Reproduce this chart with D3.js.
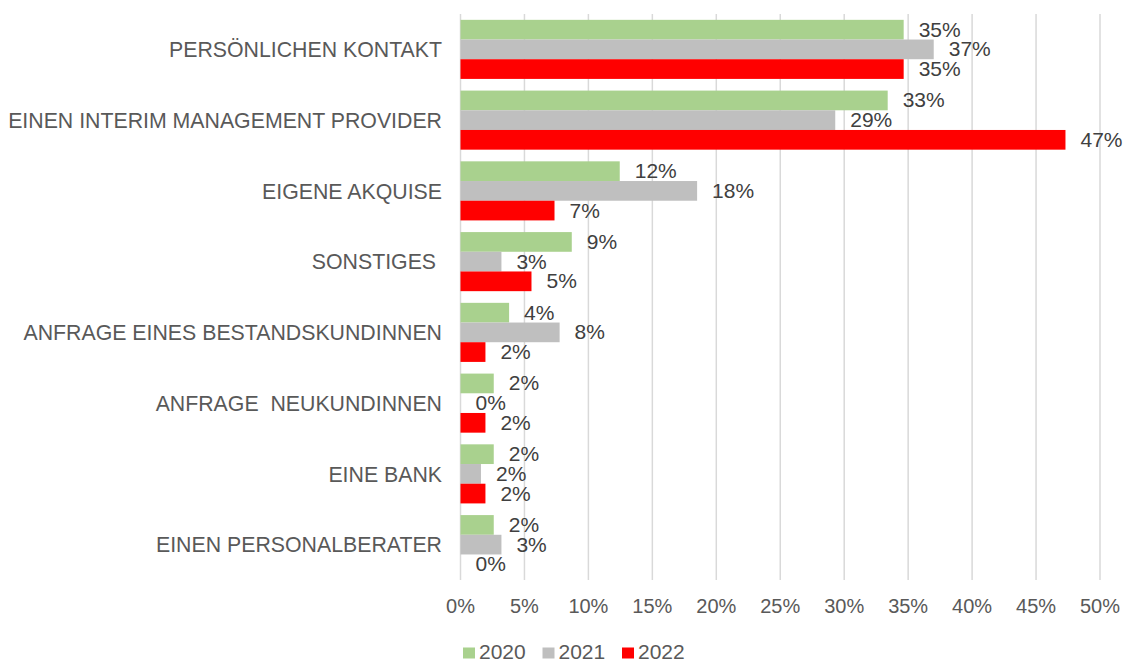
<!DOCTYPE html>
<html lang="de">
<head>
<meta charset="UTF-8">
<title>Kontaktwege</title>
<script src="https://d3js.org/d3.v7.min.js"></script>
<style>
    body { margin: 0; background: #fff; }
    svg text { font-family: "Liberation Sans", Arial, sans-serif; white-space: pre; }
</style>
</head>
<body>
<svg id="chart" width="1125" height="661"></svg>
<script>
    // data
    const categories = [
        "PERSÖNLICHEN KONTAKT",
        "EINEN INTERIM MANAGEMENT PROVIDER",
        "EIGENE AKQUISE",
        "SONSTIGES ",
        "ANFRAGE EINES BESTANDSKUNDINNEN",
        "ANFRAGE  NEUKUNDINNEN",
        "EINE BANK",
        "EINEN PERSONALBERATER"
    ];
    const years = ["2020", "2021", "2022"];
    const values2020 = [34.65, 33.4, 12.45, 8.7, 3.8, 2.6, 2.6, 2.6];
    const values2021 = [37.0, 29.3, 18.5, 3.2, 7.75, 0, 1.6, 3.2];
    const values2022 = [34.65, 47.3, 7.35, 5.55, 1.95, 1.95, 1.95, 0];
    const labels2020 = ["35%", "33%", "12%", "9%", "4%", "2%", "2%", "2%"];
    const labels2021 = ["37%", "29%", "18%", "3%", "8%", "0%", "2%", "3%"];
    const labels2022 = ["35%", "47%", "7%", "5%", "2%", "2%", "2%", "0%"];
    const tickValues = [0, 5, 10, 15, 20, 25, 30, 35, 40, 45, 50];
    const colors = ["#a9d18e", "#bfbfbf", "#ff0000"];

    const seriesValues = [values2020, values2021, values2022];
    const seriesLabels = [labels2020, labels2021, labels2022];

    const margin = {left: 460.5, right: 25, top: 14, bottom: 81};
    const W = 1125, H = 661;

    const svg = d3.select("#chart");

    const x = d3.scaleLinear()
        .domain([0, 50])
        .range([margin.left, W - margin.right]);

    const y = d3.scaleBand()
        .domain(categories)
        .range([margin.top, H - margin.bottom])
        .paddingInner(0.165)
        .paddingOuter(0.0825);

    const ySub = d3.scaleBand()
        .domain(years)
        .range([0, y.bandwidth()]);

    // gridlines
    svg.append("g")
        .selectAll("line")
        .data(tickValues)
        .join("line")
        .attr("x1", d => x(d))
        .attr("x2", d => x(d))
        .attr("y1", margin.top)
        .attr("y2", H - margin.bottom)
        .attr("stroke", "#d9d9d9")
        .attr("stroke-width", 1.5);

    // tick labels
    svg.append("g")
        .selectAll("text")
        .data(tickValues)
        .join("text")
        .attr("x", d => x(d))
        .attr("y", 613)
        .attr("text-anchor", "middle")
        .attr("font-size", 20)
        .attr("fill", "#595959")
        .text(d => d + "%");

    // category labels
    svg.append("g")
        .selectAll("text")
        .data(categories)
        .join("text")
        .attr("x", 442)
        .attr("y", d => y(d) + y.bandwidth() / 2 + 7.8)
        .attr("text-anchor", "end")
        .attr("font-size", 21.3)
        .attr("fill", "#595959")
        .text(d => d);

    // bars and data labels
    years.forEach((yr, s) => {
        const rows = categories.map((c, i) => ({cat: c, v: seriesValues[s][i], label: seriesLabels[s][i]}));
        const g = svg.append("g").attr("class", "series-" + yr);

        g.selectAll("rect")
            .data(rows)
            .join("rect")
            .attr("x", x(0))
            .attr("y", d => y(d.cat) + ySub(yr))
            .attr("width", d => x(d.v) - x(0))
            .attr("height", ySub.bandwidth())
            .attr("fill", colors[s]);

        g.selectAll("text")
            .data(rows)
            .join("text")
            .attr("transform", d => `translate(${x(d.v) + 15},${y(d.cat) + ySub(yr) + ySub.bandwidth() / 2 + 7}) scale(1.05,1)`)
            .attr("font-size", 20)
            .attr("fill", "#404040")
            .text(d => d.label);
    });

    // legend
    const legend = svg.append("g")
        .selectAll("g")
        .data(years)
        .join("g")
        .attr("transform", (d, i) => `translate(${463 + i * 79.5},647.5)`);

    legend.append("rect")
        .attr("width", 12)
        .attr("height", 11)
        .attr("fill", (d, i) => colors[i]);

    legend.append("text")
        .attr("x", 16)
        .attr("y", 11.5)
        .attr("font-size", 21)
        .attr("fill", "#595959")
        .text(d => d);
</script>
</body>
</html>
